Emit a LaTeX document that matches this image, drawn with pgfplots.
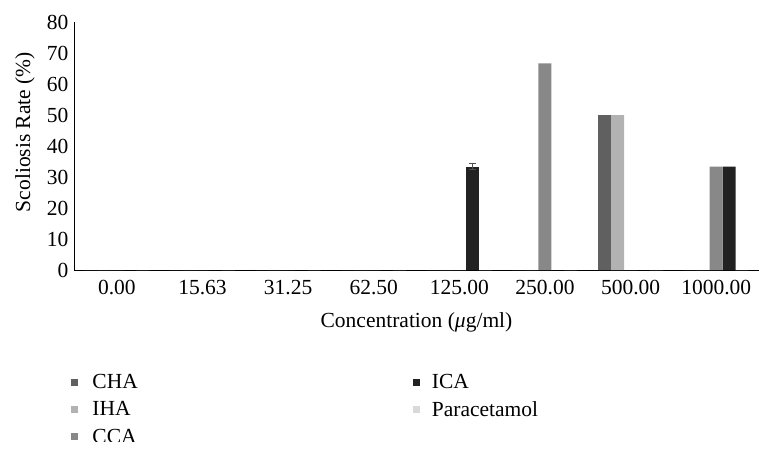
\documentclass[border=0pt]{standalone}
\usepackage{fontspec}
\setmainfont{Liberation Serif}
\usepackage{pgfplots}
\pgfplotsset{compat=1.18}

\definecolor{cha}{HTML}{606060}
\definecolor{iha}{HTML}{B2B2B2}
\definecolor{cca}{HTML}{888888}
\definecolor{ica}{HTML}{222222}
\definecolor{para}{HTML}{D9D9D9}

\begin{document}
\begin{tikzpicture}[font=\fontsize{21.5}{25}\selectfont]
\path[use as bounding box] (0,0) rectangle (765pt,456pt);
\begin{axis}[
  at={(74pt,186pt)}, anchor=south west,
  scale only axis, width=685pt, height=248pt,
  ymin=0, ymax=80, ytick={0,10,...,80},
  xmin=-0.5, xmax=7.5, xtick={0,...,7},
  xticklabels={0.00,15.63,31.25,62.50,125.00,250.00,500.00,1000.00},
  axis lines=left, axis line style={-, black, line width=1pt},
  major tick length=0pt,
  /pgf/number format/assume math mode=true,
  yticklabel style={xshift=-2pt},
  xticklabel style={yshift=-7pt},
  ylabel={Scoliosis Rate (\%)},
  ylabel style={at={(axis description cs:-0.0715,0.556)}, anchor=center},
  xlabel={Concentration (\textit{μ}g/ml)},
  xlabel style={at={(axis description cs:0.5,-0.21)}, anchor=center},
  clip=false,
  bar width=13pt,
  legend columns=2,
  legend cell align=left,
  legend image code/.code={\fill[#1] (0pt,-3.5pt) rectangle (7pt,3.5pt);},
  legend style={at={(axis description cs:-0.004,-0.413)}, anchor=north west,
    draw=none, fill=none, inner sep=0pt, row sep=7pt,
    nodes={inner sep=2pt},
    /tikz/column 1/.style={column sep=12pt},
    /tikz/column 2/.style={column sep=273pt},
    /tikz/column 3/.style={column sep=10pt}},
  error bars/error bar style={xshift=13pt, line width=0.8pt, color=ica!80},
  error bars/error mark options={rotate=90, mark size=3.5pt, line width=0.8pt},
]
\addplot[ybar, bar shift=-26pt, fill=cha, draw=none] coordinates {
  (0,0) (1,0) (2,0) (3,0) (4,0) (5,0) (6,50) (7,0)};
\addlegendentry{CHA}
\addplot[ybar, bar shift=13pt, fill=ica, draw=none,
  error bars/.cd, y dir=both, y explicit] coordinates {
  (4,33.33) +- (0,1)};
\addplot[ybar, bar shift=13pt, fill=ica, draw=none, forget plot] coordinates {
  (0,0) (1,0) (2,0) (3,0) (5,0) (6,0) (7,33.33)};
\addlegendentry{ICA}
\addplot[ybar, bar shift=-13pt, fill=iha, draw=none] coordinates {
  (0,0) (1,0) (2,0) (3,0) (4,0) (5,0) (6,50) (7,0)};
\addlegendentry{IHA}
\addplot[ybar, bar shift=26pt, fill=para, draw=none] coordinates {
  (0,0) (1,0) (2,0) (3,0) (4,0) (5,0) (6,0) (7,0)};
\addlegendentry{Paracetamol}
\addplot[ybar, bar shift=0pt, fill=cca, draw=none] coordinates {
  (0,0) (1,0) (2,0) (3,0) (4,0) (5,66.67) (6,0) (7,33.33)};
\addlegendentry{CCA}
\end{axis}
\fill[white] (0,0) rectangle (765pt,14pt);
\end{tikzpicture}
\end{document}
